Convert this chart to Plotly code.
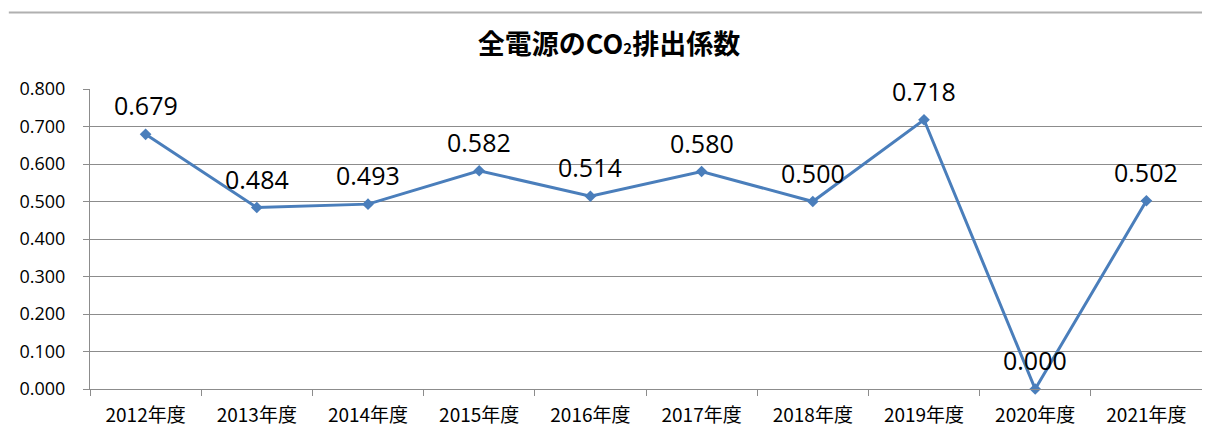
import plotly.graph_objects as go

# 年度ごとの排出係数
years = ["2012年度", "2013年度", "2014年度", "2015年度", "2016年度",
         "2017年度", "2018年度", "2019年度", "2020年度", "2021年度"]
co2 = [0.679, 0.484, 0.493, 0.582, 0.514, 0.580, 0.500, 0.718, 0.000, 0.502]
y_ticks = [0.0, 0.1, 0.2, 0.3, 0.4, 0.5, 0.6, 0.7, 0.8]

grey = "#8c8c8c"

fig = go.Figure()
fig.add_trace(
    go.Scatter(
        x=years,
        y=co2,
        mode="lines+markers",
        line=dict(color="#4a7ebb", width=3),
        marker=dict(symbol="diamond", size=9, color="#4a7ebb"),
        cliponaxis=False,
        showlegend=False,
    )
)

# data labels above each point
for yr, v in zip(years, co2):
    fig.add_annotation(
        x=yr, y=v, text=f"{v:.3f}", showarrow=False,
        yshift=29, font=dict(family="Open Sans", size=25, color="black"),
    )

fig.update_layout(
    width=1202,
    height=424,
    margin=dict(l=82, r=8, t=81, b=43),
    paper_bgcolor="white",
    plot_bgcolor="white",
    title=dict(
        text="<b>全電源のCO<span style='font-size:15px'>2</span>排出係数</b>",
        x=0.5,
        xanchor="center",
        y=0.913,
        yanchor="middle",
        font=dict(family="Noto Sans CJK JP", size=27, color="black"),
    ),
    xaxis=dict(
        type="category",
        range=[-0.5, len(years) - 0.5],
        tickson="boundaries",
        ticks="outside",
        ticklen=6,
        tickcolor=grey,
        showgrid=False,
        showline=True,
        linecolor=grey,
        linewidth=1,
        automargin=False,
        ticklabelstandoff=9,
        tickfont=dict(family="Noto Sans CJK JP", size=19, color="black"),
    ),
    yaxis=dict(
        range=[0, 0.8],
        tickvals=y_ticks,
        tickformat=".3f",
        ticks="outside",
        ticklen=6,
        tickcolor=grey,
        showgrid=True,
        gridcolor=grey,
        gridwidth=1,
        showline=True,
        linecolor=grey,
        zeroline=False,
        automargin=False,
        ticklabelstandoff=14,
        tickfont=dict(family="Open Sans", size=18, color="black"),
    ),
    shapes=[
        dict(type="line", xref="paper", yref="paper",
             x0=-0.073, x1=1.01, y0=1.255, y1=1.255,
             line=dict(color="#b0b0b0", width=2)),
    ],
)

fig.write_html("out.html")
